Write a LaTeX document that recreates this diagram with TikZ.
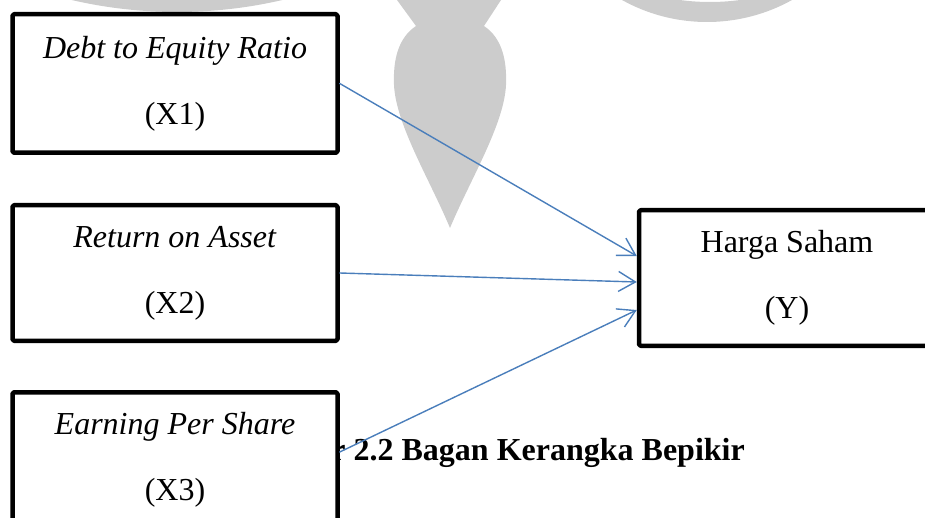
\documentclass[tikz,border=0pt]{standalone}
\usepackage{fontspec}
\setmainfont{Liberation Serif}
\usetikzlibrary{arrows.meta,calc}
\definecolor{biru}{HTML}{4A7EBB}
\definecolor{abu}{HTML}{CCCCCC}
\begin{document}
\begin{tikzpicture}[x=1pt, y=-1pt, line join=round, line cap=round,
  kotak/.style={draw, line width=4.5pt, fill=white, rounded corners=1.5pt, align=center, inner sep=0pt, font=\fontsize{32}{66}\selectfont},
  panah/.style={draw=biru, line width=1.4pt, -{Straight Barb[length=17pt,width=20pt]}}]
\clip (0,0) rectangle (925,518);
%Watermark di belakang
\fill[abu] (177,-453) circle[radius=465pt];
\fill[abu, even odd rule] (707,-153) circle[radius=175pt] (710,-223) circle[radius=225pt];
\fill[abu] (397,0) -- (416,26) .. controls (398,38) and (393,60) .. (394,85)
  .. controls (396,125) and (430,180) .. (450,228)
  .. controls (470,180) and (504,125) .. (506,85)
  .. controls (507,60) and (502,38) .. (484,26) -- (501,0) -- cycle;
%Judul gambar
\node[font=\bfseries\fontsize{32}{38}\selectfont, anchor=base east, inner sep=0pt] (judul) at (745,460) {r 2.2 Bagan Kerangka Bepikir};
%Variabel
\node[kotak, minimum width=325pt, minimum height=138.5pt] (x1) at (175,83.5) {\textit{Debt to Equity Ratio}\\(X1)};
\node[kotak, minimum width=325pt, minimum height=135.5pt] (x2) at (175,273) {\textit{Return on Asset}\\(X2)};
\node[kotak, minimum width=325pt, minimum height=135.5pt] (x3) at (175,460) {\textit{Earning Per Share}\\(X3)};
\node[kotak, minimum width=296pt, minimum height=135.5pt] (y) at (787,278) {Harga Saham\\(Y)};
%Panah
\draw[panah] (x1.east) -- ($(y.west)+(0,-22)$);
\draw[panah] (x2.east) -- ($(y.west)+(0,4)$);
\draw[panah] ($(x3.east)+(0,-8)$) -- ($(y.west)+(0,32)$);
\end{tikzpicture}
\end{document}
